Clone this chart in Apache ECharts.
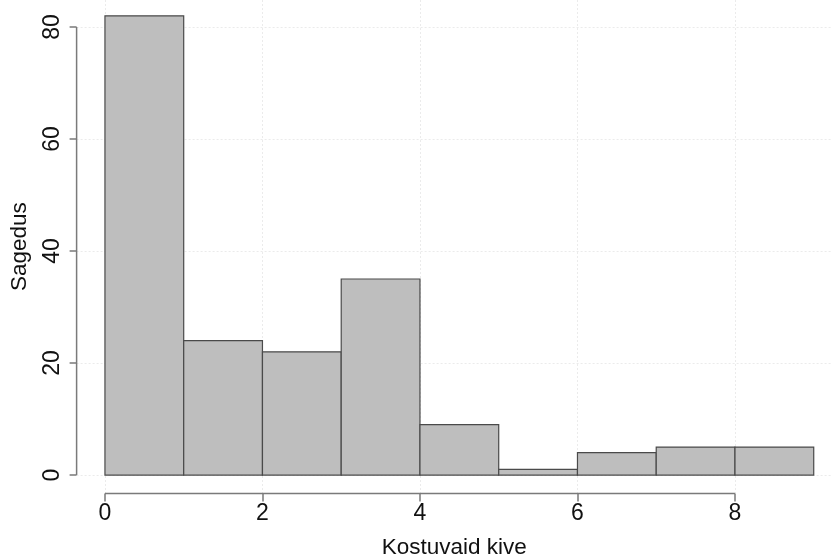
<!DOCTYPE html>
<html>
<head>
<meta charset="utf-8">
<script src="https://cdn.jsdelivr.net/npm/echarts@6/dist/echarts.min.js"></script>
<style>
  html, body { margin: 0; padding: 0; background: #ffffff; }
  #chart { width: 832px; height: 554px; }
</style>
</head>
<body>
<div id="chart"></div>
<script>
// Histogram of stones: bin edges and frequency per bin
const breaks = [0, 1, 2, 3, 4, 5, 6, 7, 8, 9];
const counts = [82, 24, 22, 35, 9, 1, 4, 5, 5];
const xTicks = [0, 2, 4, 6, 8];
const yTicks = [0, 20, 40, 60, 80];
const xTitle = 'Kostuvaid kive';
const yTitle = 'Sagedus';

// plot range padded by 4% like a base-graphics plot
const xMin = -0.36, xMax = 9.232;
const yMin = -3.28, yMax = 84.82;

const bins = counts.map((c, i) => [breaks[i], breaks[i + 1], c]);

const font = 'Liberation Sans, Arial, Helvetica, sans-serif';
const axisGrey = '#7a7a7a';
const gridStyle = { color: '#ebebeb', type: [2, 2], width: 1 };

const chart = echarts.init(document.getElementById('chart'), null, { renderer: 'canvas' });

chart.setOption({
  animation: false,
  backgroundColor: '#ffffff',
  grid: {
    left: 76.6, right: 0, top: 0, bottom: 60.6,
    containLabel: false,
    outerBoundsMode: 'none'
  },
  xAxis: {
    type: 'value',
    min: xMin,
    max: xMax,
    axisLine: { show: false, onZero: false },
    axisTick: { show: true, inside: false, customValues: xTicks, length: 8, lineStyle: { color: axisGrey, width: 1.5 } },
    axisLabel: { customValues: xTicks, margin: 9, fontSize: 23, color: '#111', fontFamily: font },
    splitLine: { show: true, lineStyle: gridStyle },
    name: xTitle,
    nameLocation: 'middle',
    nameGap: 43,
    nameTextStyle: { fontSize: 22.5, color: '#111', fontFamily: font }
  },
  yAxis: {
    type: 'value',
    min: yMin,
    max: yMax,
    axisLine: { show: false, onZero: false },
    axisTick: { show: true, inside: false, customValues: yTicks, length: 7, lineStyle: { color: axisGrey, width: 1.5 } },
    axisLabel: { customValues: yTicks, rotate: 90, margin: 12, fontSize: 23, color: '#111', fontFamily: font },
    splitLine: { show: true, lineStyle: gridStyle },
    name: yTitle,
    nameLocation: 'middle',
    nameGap: 45,
    nameTextStyle: { fontSize: 22.5, color: '#111', fontFamily: font }
  },
  series: [
    {
      type: 'custom',
      data: bins,
      renderItem: function (params, api) {
        const p0 = api.coord([api.value(0), 0]);
        const p1 = api.coord([api.value(1), api.value(2)]);
        return {
          type: 'rect',
          shape: { x: p0[0], y: p1[1], width: p1[0] - p0[0], height: p0[1] - p1[1] },
          style: { fill: '#bebebe', stroke: '#4a4a4a', lineWidth: 1.2 }
        };
      },
      silent: true
    },
    {
      // x axis line spanning first to last tick
      type: 'line',
      data: [[xTicks[0], yMin], [xTicks[xTicks.length - 1], yMin]],
      symbol: 'none',
      clip: false,
      silent: true,
      lineStyle: { color: axisGrey, width: 1.5 }
    },
    {
      // y axis line spanning first to last tick
      type: 'line',
      data: [[xMin, yTicks[0]], [xMin, yTicks[yTicks.length - 1]]],
      symbol: 'none',
      clip: false,
      silent: true,
      lineStyle: { color: axisGrey, width: 1.5 }
    }
  ]
});
</script>
</body>
</html>
